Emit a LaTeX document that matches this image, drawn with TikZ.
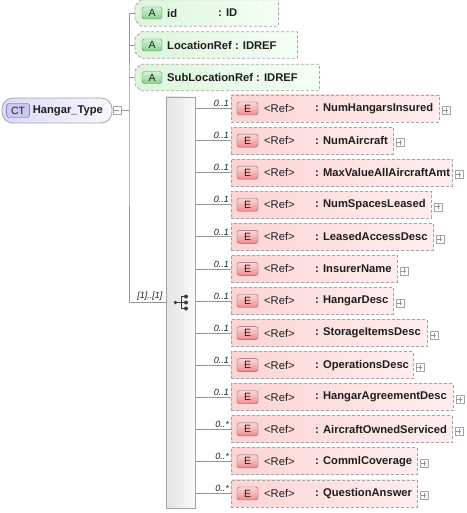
\documentclass[tikz,border=0pt]{standalone}
\usepackage{fontspec}
\setmainfont{Liberation Sans}
\usepackage{tikz}
\usetikzlibrary{positioning, calc}

\definecolor{lngray}{RGB}{150,150,150}
\definecolor{bdgray}{RGB}{165,165,165}
\definecolor{elL}{RGB}{252,212,212}
\definecolor{elR}{RGB}{255,238,238}
\definecolor{atL}{RGB}{220,245,220}
\definecolor{atR}{RGB}{245,255,245}
\definecolor{ctL}{RGB}{218,218,248}
\definecolor{ctR}{RGB}{248,248,255}
\definecolor{txt}{RGB}{30,30,30}
\definecolor{icon}{RGB}{60,60,60}

\tikzset{
  conn/.style={draw=lngray, line width=0.7pt},
  dashbox/.style={draw=bdgray, dash pattern=on 3pt off 2pt, line width=0.8pt, inner sep=0pt},
  elbox/.style={dashbox, rectangle, left color=elL, right color=elR, minimum height=27pt, anchor=west},
  atbox/.style={rectangle, inner sep=0pt, minimum height=26pt, anchor=west},
  atshape/.style={dashbox, left color=atL, right color=atR},
  badge/.style={rounded corners=2.5pt, inner sep=0pt, text=txt, font=\fontsize{10.5}{12}\selectfont},
  ebadge/.style={badge, draw={rgb,255:red,150;green,90;blue,90}, top color={rgb,255:red,255;green,215;blue,215},
    bottom color={rgb,255:red,238;green,140;blue,140}, minimum width=21pt, minimum height=13pt},
  abadge/.style={badge, draw={rgb,255:red,90;green,140;blue,90}, top color={rgb,255:red,210;green,245;blue,210},
    bottom color={rgb,255:red,140;green,205;blue,140}, minimum width=20pt, minimum height=12pt},
  ctbadge/.style={badge, draw={rgb,255:red,90;green,90;blue,140}, fill={rgb,255:red,200;green,200;blue,240},
    minimum width=23pt, minimum height=14pt},
  nametxt/.style={inner sep=0pt, text=txt, font=\fontsize{11.2}{13}\selectfont\bfseries},
  reftxt/.style={inner sep=0pt, text=txt, font=\fontsize{11.2}{13}\selectfont},
  multtxt/.style={inner sep=0pt, text=txt, font=\fontsize{9}{10}\selectfont\itshape},
  plusbox/.style={draw=bdgray, fill=white, minimum size=8pt, inner sep=0pt,
    path picture={\draw[lngray, line width=0.5pt]
      ([xshift=-2.5pt]path picture bounding box.center) -- ([xshift=2.5pt]path picture bounding box.center)
      ([yshift=-2.5pt]path picture bounding box.center) -- ([yshift=2.5pt]path picture bounding box.center);}},
  minusbox/.style={draw=bdgray, fill=white, minimum size=8pt, inner sep=0pt,
    path picture={\draw[lngray, line width=0.5pt]
      ([xshift=-2.5pt]path picture bounding box.center) -- ([xshift=2.5pt]path picture bounding box.center);}}
}

\begin{document}
\begin{tikzpicture}[x=1pt,y=-1pt]

    \useasboundingbox (0,0) rectangle (466,513);

    % Vẽ kiểu phức Hangar_Type
    \node[draw=bdgray, line width=0.8pt, rounded corners=11pt, left color=ctL, right color=ctR,
      minimum width=110pt, minimum height=25pt, inner sep=0pt] (ht) at (57,110.5) {};
    \node[ctbadge] (htct) at ([xshift=16.5pt]ht.west) {CT};
    \node[nametxt, anchor=west] (htname) at ([xshift=31pt]ht.west) {Hangar\_Type};
    \node[minusbox] (htmin) at ([xshift=4.5pt]ht.east) {};
    \coordinate (trk) at (129,110.5);

    % Vẽ các thuộc tính
    \node[atbox, minimum width=143pt] (a1) at (135,13) {};
    \node[atbox, minimum width=162pt] (a2) at (135,45) {};
    \node[atbox, minimum width=184pt] (a3) at (135,77.5) {};
    \foreach \k in {1,2,3}
    {
      \draw[atshape] ([xshift=6pt]a\k.north west) -- (a\k.north east) -- (a\k.south east)
        -- ([xshift=6pt]a\k.south west) -- ([yshift=6pt]a\k.south west)
        -- ([yshift=-6pt]a\k.north west) -- cycle;
      \node[abadge] (ab\k) at ([xshift=17pt]a\k.west) {A};
    }
    \node[nametxt, anchor=west] (an1) at ([xshift=32pt]a1.west) {id};
    \node[nametxt, anchor=west] (at1) at ([xshift=83pt]a1.west) {: ID};
    \node[nametxt, anchor=west] (an2) at ([xshift=32pt]a2.west) {LocationRef : IDREF};
    \node[nametxt, anchor=west] (an3) at ([xshift=32pt]a3.west) {SubLocationRef : IDREF};

    % Vẽ khối sequence
    \node[draw=bdgray, line width=0.8pt, left color=gray!22, right color=gray!4,
      minimum width=29pt, minimum height=411pt, inner sep=0pt] (seq) at (180.5,302.5) {};
    \node[multtxt, anchor=south east] (seqm) at ([xshift=-3pt,yshift=1.5pt]seq.west) {[1]..[1]};
    \draw[icon, line width=0.8pt]
      ($(seq.center)+(-5,0)$) -- ($(seq.center)+(0.5,0)$)
      ($(seq.center)+(0.5,-6)$) -- ($(seq.center)+(0.5,6)$)
      ($(seq.center)+(0.5,-6)$) -- ($(seq.center)+(5,-6)$)
      ($(seq.center)+(0.5,0)$) -- ($(seq.center)+(5,0)$)
      ($(seq.center)+(0.5,6)$) -- ($(seq.center)+(5,6)$);
    \fill[icon] ($(seq.center)+(-5,0)$) circle (1.9pt);
    \foreach \d in {-6,0,6}
      \fill[icon] ($(seq.center)+(5.5,\d)$) circle (2pt);

    % Đường nối
    \draw[conn] (htmin.east) -- (trk);
    \draw[conn] (a1.west) -| (trk) |- (seq.west);
    \draw[conn] (a2.west) -- (a2.west -| trk);
    \draw[conn] (a3.west) -- (a3.west -| trk);

    % Vẽ các phần tử
    \foreach \i/\nm/\w/\m in {0/NumHangarsInsured/208/0..1, 1/NumAircraft/162/0..1,
      2/MaxValueAllAircraftAmt/221/0..1, 3/NumSpacesLeased/200/0..1, 4/LeasedAccessDesc/202/0..1,
      5/InsurerName/166/0..1, 6/HangarDesc/162/0..1, 7/StorageItemsDesc/196/0..1,
      8/OperationsDesc/182/0..1, 9/HangarAgreementDesc/222/0..1, 10/AircraftOwnedServiced/221/0..*,
      11/CommlCoverage/186/0..*, 12/QuestionAnswer/186/0..*}
    {
      \node[elbox, minimum width=\w pt] (e\i) at (231,{108.5+32.08*\i}) {};
      \node[ebadge] (eb\i) at ([xshift=16.5pt]e\i.west) {E};
      \node[reftxt, anchor=west] (er\i) at ([xshift=33pt]e\i.west) {<Ref>};
      \node[nametxt, anchor=west] (en\i) at ([xshift=84pt]e\i.west) {: \nm};
      \node[plusbox] (ep\i) at ([xshift=6pt,yshift=-2pt]e\i.east) {};
      \draw[conn] (seq.east |- e\i.west) -- (e\i.west);
      \node[multtxt, anchor=south east] (em\i) at ([xshift=-2pt,yshift=1.5pt]e\i.west) {\m};
    }

\end{tikzpicture}
\end{document}
